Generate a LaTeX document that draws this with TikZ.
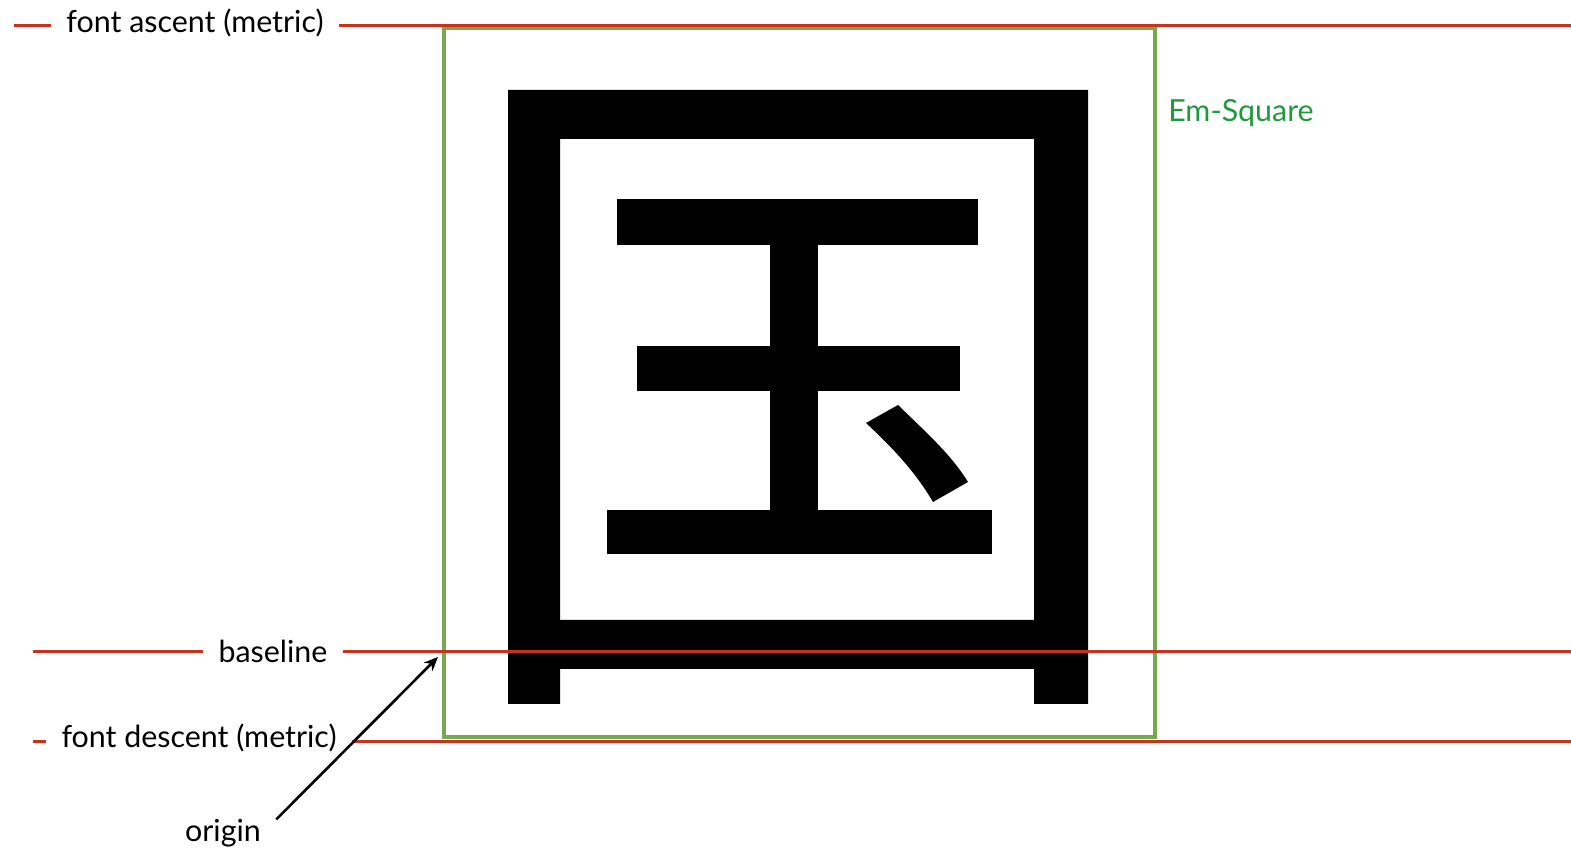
\documentclass[tikz,border=0pt]{standalone}
\usepackage{fontspec}
\setmainfont{Lato}
\usepackage{tikz}
\usetikzlibrary{arrows.meta}
\definecolor{metricred}{HTML}{C8341B}
\definecolor{emgreen}{HTML}{74A94E}
\definecolor{emtext}{HTML}{1E9A3A}
\tikzset{
  metricline/.style={draw=metricred, line width=1.5pt},
  emsquare/.style={draw=emgreen, line width=1.8pt},
  glyph/.style={fill=black, even odd rule},
  metriclabel/.style={font=\fontsize{15.2}{17}\selectfont, anchor=base,
                      inner xsep=7.5pt, inner ysep=0pt, text=black},
  emlabel/.style={metriclabel, text=emtext},
  pointer/.style={-{Stealth[length=7pt,width=6pt]}, draw=black,
                  line width=1.3pt}
}

\begin{document}
\begin{tikzpicture}[x=0.5pt,y=-0.5pt]
  \useasboundingbox (0,0) rectangle (1571,860);

  % -------------------------------------------------------------------------
  % The glyph: frame with two legs below the baseline, inner strokes.
  \fill[glyph] (508,90) -- (1088,90) -- (1088,704) -- (1034,704)
    -- (1034,669) -- (560,669) -- (560,704) -- (508,704) -- cycle
    (560,139) rectangle (1034,620);
  \fill[glyph] (617,199) rectangle (978,245);
  \fill[glyph] (770,245) rectangle (818,510);
  \fill[glyph] (637,346) rectangle (960,391);
  \fill[glyph] (607,510) rectangle (992,554);
  \fill[glyph] (866,423) -- (898,405)
    .. controls (930,436) and (952,456) .. (968,482) -- (933,502)
    .. controls (916,473) and (894,449) .. (866,423) -- cycle;

  % Em-square around the glyph.
  \draw[emsquare] (444,28) rectangle (1155,737);
  \node[emlabel] (emlbl) at (1241,122) {Em-Square};

  % -------------------------------------------------------------------------
  % Metric lines with their labels.
  \coordinate (ascentL) at (14,26);
  \coordinate (ascentR) at (1571,26);
  \coordinate (baseL) at (33,652);
  \coordinate (baseR) at (1571,652);
  \coordinate (descentL) at (33,742);
  \coordinate (descentR) at (1571,742);

  \node[metriclabel] (ascentlbl) at (195,33) {font ascent (metric)};
  \node[metriclabel] (baselbl) at (273,663) {baseline};
  \node[metriclabel] (descentlbl) at (199,748) {font descent (metric)};

  \draw[metricline] (ascentL) -- (ascentL -| ascentlbl.west);
  \draw[metricline] (ascentlbl.east |- ascentR) -- (ascentR);
  \draw[metricline] (baseL) -- (baseL -| baselbl.west);
  \draw[metricline] (baselbl.east |- baseR) -- (baseR);
  \draw[metricline] (descentL) -- (descentL -| descentlbl.west);
  \draw[metricline] (descentlbl.east |- descentR) -- (descentR);

  % -------------------------------------------------------------------------
  % Origin of the glyph on the baseline.
  \coordinate (originpt) at (438,657);
  \node[metriclabel] (originlbl) at (223,842) {origin};
  \draw[pointer] (originlbl.north east) -- (originpt);
\end{tikzpicture}
\end{document}
